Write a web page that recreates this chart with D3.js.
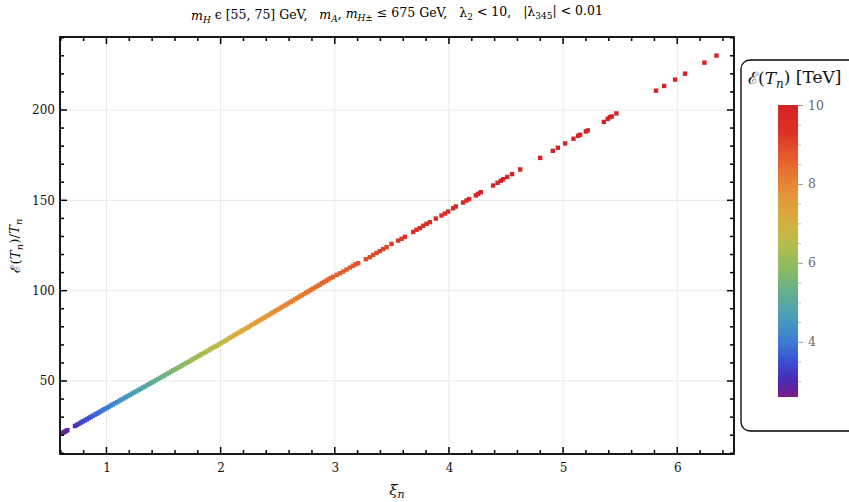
<!DOCTYPE html>
<html>
<head>
<meta charset="utf-8">
<script src="https://cdn.jsdelivr.net/npm/d3@7"></script>
<style>
  body { margin: 0; background: #fff; }
  text { font-family: "DejaVu Serif", serif; }
</style>
</head>
<body>
<svg id="chart" width="849" height="502"></svg>
<script>
// xi_n values (horizontal), E(T_n)/T_n (vertical), E(T_n) in TeV (colour)
var xiVals = [
  0.620, 0.633, 0.646, 0.658,
  0.724, 0.741, 0.757, 0.776, 0.792, 0.811, 0.828, 0.846, 0.862, 0.879, 0.897, 0.914, 0.931, 0.949, 0.966, 0.983,
  1.001, 1.019, 1.038, 1.056, 1.075, 1.094, 1.112, 1.131, 1.150, 1.168, 1.187, 1.205, 1.224, 1.243, 1.262, 1.281,
  1.300, 1.319, 1.338, 1.357, 1.376, 1.395, 1.414, 1.433, 1.452, 1.471, 1.490, 1.509, 1.528, 1.547, 1.566, 1.585,
  1.604, 1.623, 1.642, 1.661, 1.680, 1.699, 1.718, 1.737, 1.756, 1.775, 1.794, 1.813, 1.832, 1.851, 1.870, 1.889,
  1.908, 1.927, 1.946, 1.965, 1.984, 2.003, 2.022, 2.041, 2.060, 2.079, 2.098, 2.117, 2.136, 2.155, 2.174, 2.193,
  2.212, 2.231, 2.250, 2.269, 2.288, 2.307, 2.326, 2.345, 2.364, 2.383, 2.402, 2.421, 2.440, 2.459, 2.478, 2.497,
  2.517, 2.536, 2.556, 2.575, 2.594, 2.614, 2.633, 2.653, 2.672, 2.691, 2.711, 2.730, 2.750, 2.770, 2.789, 2.809,
  2.829, 2.849, 2.868, 2.888, 2.907, 2.926, 2.946, 2.965, 2.985,
  3.016, 3.045, 3.074, 3.103, 3.132, 3.160, 3.182, 3.205,
  3.272, 3.307, 3.336, 3.366, 3.395, 3.424, 3.454, 3.497, 3.555, 3.585, 3.614,
  3.687, 3.716, 3.745, 3.774, 3.804, 3.833, 3.885, 3.935, 3.964, 3.993,
  4.037, 4.060, 4.124, 4.154, 4.177, 4.236, 4.256, 4.279,
  4.387, 4.426, 4.454, 4.475, 4.510, 4.553, 4.624, 4.799, 4.910, 4.954, 5.018, 5.091, 5.131, 5.149, 5.199, 5.216,
  5.357, 5.391, 5.409, 5.426, 5.467, 5.814, 5.885, 5.981, 6.068, 6.238, 6.343
];
var ratioVals = [
  21.4, 21.9, 22.3, 22.8,
  25.1, 25.7, 26.3, 27.0, 27.6, 28.2, 28.8, 29.5, 30.1, 30.7, 31.3, 31.9, 32.5, 33.2, 33.8, 34.4,
  35.0, 35.7, 36.4, 37.0, 37.7, 38.3, 39.0, 39.7, 40.3, 41.0, 41.7, 42.3, 43.0, 43.7, 44.3, 45.0,
  45.7, 46.4, 47.0, 47.7, 48.4, 49.1, 49.7, 50.4, 51.1, 51.8, 52.4, 53.1, 53.8, 54.5, 55.2, 55.9,
  56.5, 57.2, 57.9, 58.6, 59.3, 60.0, 60.6, 61.3, 62.0, 62.7, 63.4, 64.1, 64.8, 65.4, 66.1, 66.8,
  67.5, 68.2, 68.9, 69.5, 70.2, 70.9, 71.6, 72.3, 73.0, 73.8, 74.5, 75.2, 75.9, 76.6, 77.3, 78.0,
  78.7, 79.4, 80.1, 80.9, 81.6, 82.3, 83.0, 83.7, 84.4, 85.1, 85.8, 86.5, 87.3, 88.0, 88.7, 89.4,
  90.1, 90.9, 91.6, 92.3, 93.0, 93.8, 94.5, 95.3, 96.0, 96.7, 97.4, 98.1, 98.9, 99.6, 100.4, 101.1,
  101.9, 102.6, 103.3, 104.1, 104.8, 105.5, 106.3, 107.0, 107.7,
  108.7, 109.6, 110.6, 111.7, 112.8, 113.8, 114.6, 115.2,
  117.4, 118.5, 119.8, 120.9, 121.9, 123.0, 124.1, 125.9, 127.7, 128.7, 129.8,
  132.5, 133.7, 134.6, 135.9, 137.0, 137.9, 139.9, 141.6, 142.7, 143.8,
  145.6, 146.6, 148.8, 149.9, 150.7, 152.7, 153.6, 154.5,
  158.2, 159.7, 160.8, 161.7, 162.9, 164.5, 167.1, 173.5, 177.4, 179.1, 181.5, 184.1, 185.7, 186.3, 188.1, 188.7,
  193.4, 195.1, 196.0, 196.4, 198.1, 210.7, 213.3, 216.8, 220.1, 226.2, 230.1
];
var energyVals = [
  2.72, 2.78, 2.84, 2.89,
  3.12, 3.17, 3.22, 3.28, 3.33, 3.39, 3.45, 3.51, 3.56, 3.63, 3.69, 3.74, 3.80, 3.85, 3.90, 3.95,
  4.00, 4.06, 4.11, 4.17, 4.23, 4.28, 4.33, 4.38, 4.43, 4.47, 4.52, 4.57, 4.62, 4.68, 4.74, 4.80,
  4.85, 4.90, 4.95, 5.00, 5.04, 5.09, 5.14, 5.20, 5.26, 5.31, 5.37, 5.43, 5.48, 5.52, 5.57, 5.61,
  5.66, 5.71, 5.76, 5.81, 5.85, 5.90, 5.95, 5.99, 6.04, 6.09, 6.14, 6.18, 6.23, 6.28, 6.32, 6.37,
  6.42, 6.48, 6.54, 6.59, 6.65, 6.71, 6.76, 6.81, 6.85, 6.90, 6.95, 6.99, 7.04, 7.09, 7.14, 7.18,
  7.23, 7.28, 7.32, 7.37, 7.42, 7.46, 7.50, 7.54, 7.58, 7.62, 7.65, 7.69, 7.73, 7.77, 7.81, 7.85,
  7.88, 7.90, 7.93, 7.96, 7.99, 8.02, 8.05, 8.08, 8.11, 8.14, 8.17, 8.20, 8.22, 8.25, 8.28, 8.31,
  8.34, 8.37, 8.40, 8.43, 8.46, 8.48, 8.51, 8.54, 8.57,
  8.61, 8.64, 8.67, 8.71, 8.74, 8.77, 8.80, 8.82,
  8.89, 8.93, 8.96, 9.00, 9.03, 9.06, 9.09, 9.14, 9.20, 9.23, 9.26,
  9.33, 9.36, 9.39, 9.42, 9.45, 9.48, 9.53, 9.58, 9.61, 9.64,
  9.68, 9.71, 9.77, 9.80, 9.82, 9.88, 9.90, 9.92,
  10.0, 10.1, 10.1, 10.2, 10.2, 10.3, 10.4, 10.6, 10.8, 10.8, 10.9, 11.0, 11.1, 11.1, 11.2, 11.2,
  11.4, 11.5, 11.5, 11.5, 11.6, 12.1, 12.2, 12.3, 12.4, 12.7, 12.8
];

var xMajor = [1, 2, 3, 4, 5, 6];
var yMajor = [50, 100, 150, 200];
var barMajor = [4, 6, 8, 10];

// rainbow palette stops (value in TeV -> colour)
var paletteStops = [2.6, 3.0, 3.5, 4.0, 4.6, 5.2, 5.8, 6.4, 7.0, 7.6, 8.2, 8.8, 9.3, 10];
var paletteColors = ["#7a1f86", "#4a2ab2", "#3a4fd2", "#3d7bd2", "#4a9dbc", "#63ae92", "#86ba66",
  "#b0bd4f", "#d4b040", "#e49a3a", "#e67932", "#e2542b", "#da3126", "#d52424"];

var svg = d3.select("#chart");
var plotL = 60, plotR = 734, plotT = 37, plotB = 454;

var x = d3.scaleLinear().domain([0.593, 6.497]).range([plotL, plotR]);
var y = d3.scaleLinear().domain([9.6, 240.4]).range([plotB, plotT]);
var color = d3.scaleLinear().domain(paletteStops).range(paletteColors).clamp(true);

var points = xiVals.map(function(d, i) {
  return { xi: d, r: ratioVals[i], e: energyVals[i] };
});

// rich text helper: parts = [{t, i (italic), s (subscript)}]
function rich(sel, parts, subSize) {
  var shift = 0;
  parts.forEach(function(p) {
    var want = p.s ? 0.3 : 0;
    var ts = sel.append("tspan").text(p.t);
    if (p.i) ts.attr("font-style", "italic");
    if (p.s) ts.attr("font-size", subSize);
    if (want != shift) {
      ts.attr("dy", (want - shift) + "em");
      shift = want;
    }
  });
}

// grid
var grid = svg.append("g");
grid.selectAll(".gx").data(xMajor).enter().append("line")
  .attr("x1", function(d) { return x(d); }).attr("x2", function(d) { return x(d); })
  .attr("y1", plotT).attr("y2", plotB)
  .attr("stroke", "#e9e9e9").attr("stroke-width", 1);
grid.selectAll(".gy").data(yMajor).enter().append("line")
  .attr("y1", function(d) { return y(d); }).attr("y2", function(d) { return y(d); })
  .attr("x1", plotL).attr("x2", plotR)
  .attr("stroke", "#e9e9e9").attr("stroke-width", 1);

// points
var ms = 4.4;
svg.append("g").selectAll("rect")
  .data(points)
  .enter()
  .append("rect")
  .attr("x", function(d) { return x(d.xi) - ms / 2; })
  .attr("y", function(d) { return y(d.r) - ms / 2; })
  .attr("width", ms).attr("height", ms)
  .attr("fill", function(d) { return color(d.e); });

// tick marks, inward on all four sides
var xMinor = d3.range(0.6, 6.5, 0.2).filter(function(v) { return Math.abs(v - Math.round(v)) > 0.01; });
var yMinor = d3.range(10, 241, 10).filter(function(v) { return v % 50 != 0; });
var xTicks = xMajor.map(function(v) { return { v: v, len: 7 }; })
  .concat(xMinor.map(function(v) { return { v: v, len: 4 }; }));
var yTicks = yMajor.map(function(v) { return { v: v, len: 7 }; })
  .concat(yMinor.map(function(v) { return { v: v, len: 4 }; }));

var ticks = svg.append("g").attr("stroke", "#000").attr("stroke-width", 1.5);
[plotB, plotT].forEach(function(edge) {
  var dir = edge == plotB ? -1 : 1;
  ticks.selectAll(null).data(xTicks).enter().append("line")
    .attr("x1", function(d) { return x(d.v); }).attr("x2", function(d) { return x(d.v); })
    .attr("y1", edge).attr("y2", function(d) { return edge + dir * d.len; });
});
[plotL, plotR].forEach(function(edge) {
  var dir = edge == plotL ? 1 : -1;
  ticks.selectAll(null).data(yTicks).enter().append("line")
    .attr("y1", function(d) { return y(d.v); }).attr("y2", function(d) { return y(d.v); })
    .attr("x1", edge).attr("x2", function(d) { return edge + dir * d.len; });
});

// tick labels through d3 axes (tick lines hidden)
function labelAxis(g) {
  g.select(".domain").remove();
  g.selectAll("line").remove();
  g.selectAll("text").attr("font-family", "DejaVu Serif").attr("font-size", 12).attr("fill", "#111");
}
svg.append("g").attr("transform", "translate(0," + plotB + ")")
  .call(d3.axisBottom(x).tickValues(xMajor).tickSize(0).tickPadding(9).tickFormat(d3.format("d")))
  .call(labelAxis);
svg.append("g").attr("transform", "translate(" + plotL + ",0)")
  .call(d3.axisLeft(y).tickValues(yMajor).tickSize(0).tickPadding(5).tickFormat(d3.format("d")))
  .call(labelAxis);

// frame
svg.append("rect")
  .attr("x", plotL).attr("y", plotT).attr("width", plotR - plotL).attr("height", plotB - plotT)
  .attr("fill", "none").attr("stroke", "#000").attr("stroke-width", 1.8);

// title
var title = svg.append("text")
  .attr("x", 397).attr("y", 20).attr("text-anchor", "middle")
  .attr("font-size", 12.5).attr("fill", "#000").attr("xml:space", "preserve");
rich(title, [
  { t: "m", i: 1 }, { t: "H", i: 1, s: 1 }, { t: " \u03f5 [55, 75] GeV,   " },
  { t: "m", i: 1 }, { t: "A", i: 1, s: 1 }, { t: ", " },
  { t: "m", i: 1 }, { t: "H\u00b1", i: 1, s: 1 }, { t: " \u2264 675 GeV,   \u03bb" },
  { t: "2", s: 1 }, { t: " < 10,   |\u03bb" }, { t: "345", s: 1 }, { t: "| < 0.01" }
], 9);

// axis labels
var xl = svg.append("text")
  .attr("x", 397).attr("y", 495).attr("text-anchor", "middle")
  .attr("font-size", 15).attr("fill", "#111");
rich(xl, [{ t: "\u03be", i: 1 }, { t: "n", i: 1, s: 1 }], 11);

var yl = svg.append("text")
  .attr("transform", "translate(20," + ((plotT + plotB) / 2) + ") rotate(-90)")
  .attr("text-anchor", "middle")
  .attr("font-size", 13.5).attr("fill", "#111");
rich(yl, [{ t: "\u2130(" }, { t: "T", i: 1 }, { t: "n", i: 1, s: 1 }, { t: ")/" }, { t: "T", i: 1 }, { t: "n", i: 1, s: 1 }], 10);

// legend box with colour bar
var legend = svg.append("g");
legend.append("rect")
  .attr("x", 741).attr("y", 60).attr("width", 130).attr("height", 371).attr("rx", 9)
  .attr("fill", "#fff").attr("stroke", "#000").attr("stroke-width", 1.3);

var lt = legend.append("text")
  .attr("x", 748).attr("y", 84).attr("font-size", 17).attr("fill", "#111");
rich(lt, [{ t: "\u2130(" }, { t: "T", i: 1 }, { t: "n", i: 1, s: 1 }, { t: ") [TeV]" }], 12);

var bar = d3.scaleLinear().domain([2.6, 10]).range([397, 105]);
var grad = svg.append("defs").append("linearGradient")
  .attr("id", "rainbow").attr("x1", 0).attr("y1", 1).attr("x2", 0).attr("y2", 0);
grad.selectAll("stop").data(paletteStops).enter().append("stop")
  .attr("offset", function(d) { return (d - 2.6) / (10 - 2.6); })
  .attr("stop-color", function(d, i) { return paletteColors[i]; });

legend.append("rect")
  .attr("x", 778).attr("y", bar(10)).attr("width", 20).attr("height", bar(2.6) - bar(10))
  .attr("fill", "url(#rainbow)");

var barMinor = d3.range(3, 10, 0.5).filter(function(v) { return barMajor.indexOf(v) < 0; });
legend.append("g").attr("transform", "translate(798,0)")
  .call(d3.axisRight(bar).tickValues(barMinor).tickSize(3).tickFormat(""))
  .call(function(g) {
    g.select(".domain").remove();
    g.selectAll("line").attr("stroke", "#bbb");
  });
legend.append("g").attr("transform", "translate(798,0)")
  .call(d3.axisRight(bar).tickValues(barMajor).tickSize(5).tickPadding(5).tickFormat(d3.format("d")))
  .call(function(g) {
    g.select(".domain").remove();
    g.selectAll("line").attr("stroke", "#999");
    g.selectAll("text").attr("font-family", "DejaVu Serif").attr("font-size", 12.5).attr("fill", "#6a6a6a");
  });
</script>
</body>
</html>
